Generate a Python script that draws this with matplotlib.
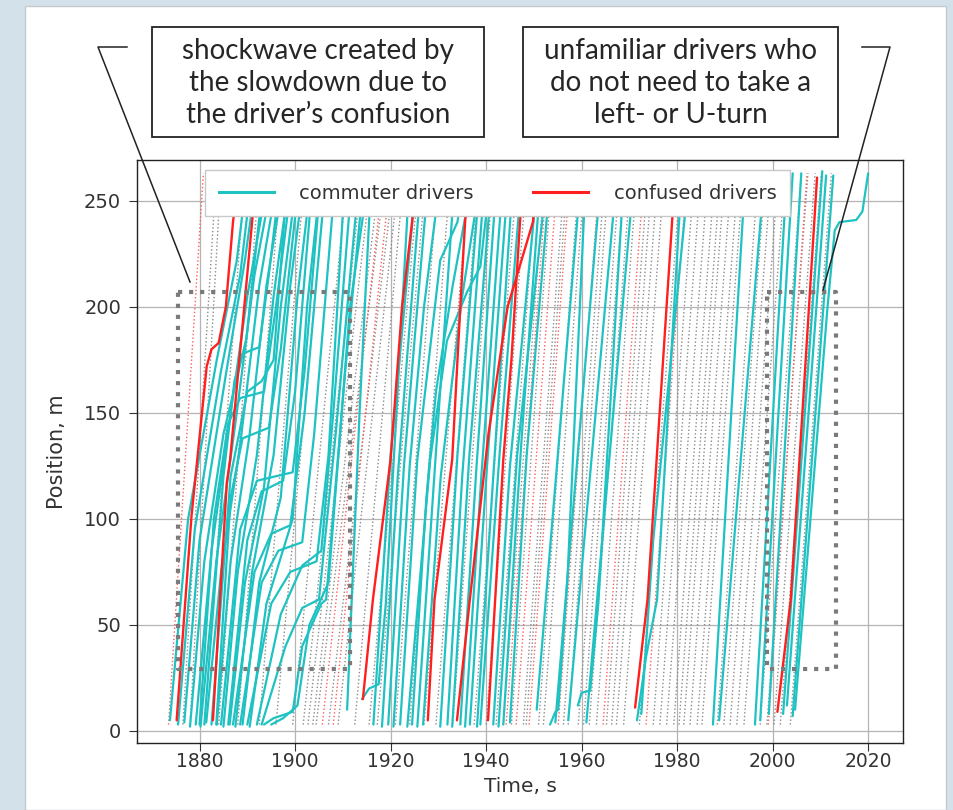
import matplotlib
matplotlib.use("Agg")
import matplotlib.pyplot as plt
from matplotlib.lines import Line2D
from matplotlib.patches import Rectangle

# ---------------- data (time s, position m) ----------------
x_ticks = [1880, 1900, 1920, 1940, 1960, 1980, 2000, 2020]
y_ticks = [0, 50, 100, 150, 200, 250]

# commuter drivers (cyan), left group inside the shockwave box
commuter_left = [
    [(1873.8, 5), (1877.6, 100), (1883.6, 175), (1887.8, 222), (1890.0, 263)],
    [(1875.5, 3), (1879.0, 95), (1884.5, 170), (1888.5, 215), (1891.0, 263)],
    [(1876.8, 4), (1880.0, 90), (1885.5, 168), (1889.5, 222), (1892.0, 263)],
    [(1878.0, 2), (1881.0, 80), (1885.0, 140), (1889.8, 185), (1893.5, 263)],
    [(1879.2, 3), (1882.5, 85), (1886.5, 150), (1890.0, 205), (1894.5, 263)],
    [(1880.2, 2), (1883.5, 80), (1887.5, 145), (1891.5, 215), (1895.5, 263)],
    [(1881.4, 4), (1884.5, 75), (1888.5, 135), (1892.5, 210), (1896.5, 263)],
    [(1883.6, 3), (1886.5, 80), (1890.5, 140), (1894.0, 210), (1897.8, 263)],
    [(1885.0, 2), (1888.0, 75), (1892.0, 130), (1895.5, 205), (1899.0, 263)],
    [(1886.3, 3), (1889.5, 70), (1893.5, 115), (1897.0, 200), (1900.5, 263)],
    [(1887.5, 2), (1891.0, 75), (1895.5, 130), (1899.0, 210), (1902.0, 263)],
    [(1889.0, 3), (1892.5, 70), (1897.0, 110), (1900.5, 205), (1903.5, 263)],
    [(1890.5, 2), (1894.0, 60), (1899.5, 100), (1902.5, 200), (1905.5, 263)],
]
# commuter drivers caught in the shockwave (plateaus)
commuter_wave = [
    [(1881.0, 3), (1885.0, 120), (1887.3, 165), (1889.0, 178), (1892.5, 181), (1894.5, 215), (1897.0, 263)],
    [(1880.0, 3), (1883.0, 100), (1886.0, 145), (1888.5, 157), (1893.5, 160), (1896.0, 200), (1899.5, 263)],
    [(1883.5, 3), (1886.5, 110), (1889.0, 138), (1894.5, 143), (1897.0, 180), (1901.0, 263)],
    [(1884.5, 3), (1888.5, 95), (1892.0, 118), (1899.5, 122), (1902.0, 170), (1905.5, 263)],
    [(1886.0, 3), (1890.0, 90), (1893.0, 113), (1897.5, 118), (1900.0, 160), (1903.8, 263)],
    [(1887.0, 3), (1891.5, 75), (1895.0, 93), (1899.0, 97), (1902.0, 150), (1906.5, 263)],
    [(1888.5, 3), (1893.0, 70), (1896.5, 85), (1901.5, 89), (1904.0, 140), (1908.5, 263)],
    [(1890.0, 3), (1895.0, 60), (1899.0, 75), (1904.5, 80), (1907.0, 130), (1910.5, 263)],
    [(1892.0, 3), (1897.0, 55), (1901.5, 78), (1905.5, 85), (1908.0, 150), (1912.0, 263)],
    [(1893.0, 3), (1898.0, 40), (1901.5, 58), (1905.0, 62), (1908.5, 140), (1913.5, 263)],
    [(1893.5, 3), (1895.5, 6), (1899.5, 9), (1901.5, 40), (1905.5, 60), (1906.5, 62), (1910.5, 170), (1914.5, 263)],
    [(1895.0, 3), (1897.5, 6), (1900.5, 12), (1903.0, 50), (1907.0, 70), (1911.5, 200), (1915.5, 263)],
    [(1882.5, 3), (1886.5, 120), (1890.0, 160), (1893.0, 165), (1895.5, 175), (1898.5, 263)],
]
# commuter drivers, middle and right part
commuter_mid = [
    [(1910.9, 10), (1913.5, 150), (1916.0, 263)],
    [(1914.0, 15), (1915.5, 20), (1917.5, 22), (1919.0, 60), (1924.0, 263)],
    [(1916.4, 3), (1920.0, 130), (1925.5, 263)],
    [(1918.2, 2), (1921.5, 120), (1926.5, 263)],
    [(1919.5, 3), (1922.8, 125), (1925.6, 200), (1928.0, 263)],
    [(1920.6, 2), (1924.0, 125), (1927.0, 200), (1930.5, 263)],
    [(1922.0, 3), (1925.6, 128), (1930.4, 222), (1934.0, 240), (1935.5, 263)],
    [(1923.5, 2), (1928.3, 128), (1931.8, 184), (1936.0, 207), (1938.8, 219), (1941.0, 263)],
    [(1924.5, 3), (1927.5, 110), (1929.5, 160), (1933.0, 210), (1937.3, 263)],
    [(1925.6, 2), (1929.0, 115), (1933.5, 263)],
    [(1926.8, 3), (1930.5, 120), (1935.0, 205), (1939.0, 263)],
    [(1930.4, 2), (1934.0, 130), (1938.8, 263)],
    [(1931.9, 3), (1935.0, 120), (1939.8, 263)],
    [(1932.9, 2), (1936.5, 130), (1941.3, 263)],
    [(1934.6, 3), (1938.0, 125), (1942.3, 263)],
    [(1935.6, 2), (1939.0, 120), (1943.6, 263)],
    [(1936.6, 3), (1940.2, 125), (1944.7, 263)],
    [(1938.1, 2), (1941.5, 120), (1945.7, 263)],
    [(1938.8, 3), (1942.8, 130), (1947.5, 263)],
    [(1941.5, 3), (1945.0, 125), (1950.9, 263)],
    [(1942.6, 2), (1946.5, 130), (1952.8, 263)],
    [(1943.6, 3), (1947.5, 140), (1951.5, 263)],
    [(1945.0, 4), (1948.5, 130), (1953.5, 263)],
    [(1950.6, 10), (1959.9, 263)],
    [(1953.4, 3), (1954.5, 9), (1955.1, 10), (1957.0, 70), (1960.9, 263)],
    [(1954.5, 4), (1964.1, 263)],
    [(1957.2, 5), (1967.4, 263)],
    [(1959.2, 12), (1960.0, 18), (1961.8, 19), (1963.5, 60), (1968.9, 263)],
    [(1961.0, 4), (1971.0, 263)],
    [(1971.6, 5), (1973.5, 35), (1975.8, 62), (1981.0, 263)],
    [(1972.5, 8), (1975.0, 90), (1982.5, 263)],
    [(1987.5, 3), (1994.3, 263)],
    [(1988.8, 5), (1998.3, 263)],
    [(1996.3, 3), (2003.0, 263)],
    [(1997.4, 5), (2004.2, 263)],
    [(1999.2, 8), (2006.0, 263)],
    [(2002.2, 8), (2010.4, 264)],
    [(2003.0, 12), (2011.2, 262)],
    [(2004.2, 7), (2012.7, 262)],
    [(2004.7, 10), (2011.5, 200), (2013.0, 236), (2014.0, 240), (2017.5, 241), (2018.8, 245), (2020.0, 263)],
]
# confused drivers (red)
confused = [
    [(1875.2, 5), (1878.3, 101), (1881.5, 172), (1882.5, 180), (1884.0, 183), (1885.5, 200), (1887.0, 240), (1888.2, 263)],
    [(1882.8, 5), (1885.7, 117), (1886.4, 128), (1891.0, 240), (1892.0, 263)],
    [(1914.2, 15), (1916.3, 62), (1920.0, 128), (1922.4, 200), (1924.5, 240), (1925.3, 263)],
    [(1927.8, 5), (1929.2, 62), (1932.9, 128), (1934.6, 200), (1935.6, 240), (1936.4, 263)],
    [(1933.9, 5), (1936.6, 62), (1940.5, 140), (1944.5, 200), (1949.8, 240), (1950.8, 263)],
    [(1940.4, 5), (1941.9, 62), (1943.6, 128), (1945.3, 175), (1946.0, 200), (1947.1, 240), (1948.0, 263)],
    [(1971.2, 11), (1973.8, 62), (1979.0, 242), (1979.8, 263)],
    [(2001.0, 9), (2003.8, 62), (2009.3, 261)],
]
# other vehicles (dotted): start time at 3 m, time at 263 m
other_gray_start = [1876.5, 1878.0, 1881.0, 1884.0, 1888.0, 1892.5, 1896.0, 1899.5,
                    1901.7, 1902.7, 1903.7, 1904.4, 1907.0, 1909.0, 1912.5, 1915.5,
                    1917.2, 1921.0, 1924.0, 1927.0, 1929.5, 1933.0, 1937.5, 1940.0,
                    1942.1, 1943.6, 1945.3, 1947.8, 1948.4, 1951.0, 1952.0, 1956.2,
                    1957.2, 1959.3, 1960.4, 1961.6, 1963.1, 1965.2, 1966.3, 1967.3,
                    1968.8, 1972.1, 1975.0, 1976.4, 1977.8, 1979.3, 1980.4, 1981.4,
                    1982.7, 1984.2, 1985.2, 1988.4, 1989.8, 1991.1, 1992.5, 1994.0,
                    1997.4, 1998.8, 2000.3, 2001.6, 2003.7]
other_gray_end = [1883.5, 1884.5, 1889.5, 1892.5, 1897.0, 1902.0, 1906.5, 1911.0,
                  1914.0, 1916.0, 1917.8, 1919.0, 1920.8, 1921.8, 1922.8, 1926.0,
                  1927.5, 1930.0, 1932.5, 1936.5, 1938.5, 1941.5, 1946.5, 1948.5,
                  1950.6, 1952.3, 1953.8, 1956.5, 1957.1, 1959.5, 1960.7, 1964.9,
                  1965.7, 1968.0, 1969.0, 1970.3, 1971.6, 1973.9, 1974.8, 1976.0,
                  1977.3, 1980.8, 1983.6, 1985.0, 1986.5, 1987.9, 1989.1, 1990.0,
                  1991.4, 1992.8, 1993.9, 1997.0, 1998.5, 1999.7, 2001.2, 2002.6,
                  2006.0, 2007.4, 2008.9, 2010.2, 2012.3]
other_red_start = [1873.5, 1905.7, 1908.0, 1944.2, 1946.3, 1949.0, 1955.1, 1964.5, 1973.5, 1999.1]
other_red_end = [1880.8, 1918.5, 1920.0, 1952.8, 1955.0, 1957.6, 1963.8, 1973.1, 1982.1, 2007.2]

# highlighted regions (time range, position range)
box_shock_t = [1875.5, 1911.6]
box_unfam_t = [1998.9, 2013.2]
box_p = [29, 207]

legend_labels = ["commuter drivers", "confused drivers"]
note_left = "shockwave created by\nthe slowdown due to\nthe driver\u2019s confusion"
note_right = "unfamiliar drivers who\ndo not need to take a\nleft- or U-turn"

# ---------------- styling ----------------
CYAN = "#1fc2c2"
RED = "#ff1f1f"
W, H = 954, 810

fig = plt.figure(figsize=(W / 100, H / 100), dpi=100)
fig.patch.set_facecolor("#d3e2ea")
fig.add_artist(Rectangle((25 / W, 0), 921 / W, 804 / H, transform=fig.transFigure,
                         facecolor="white", edgecolor="#c4c9cd", lw=1.0, zorder=0))

ax = fig.add_axes([137 / W, 67 / H, 766 / W, 583 / H])
ax.set_xlim(1866.9, 2027.3)
ax.set_ylim(-5.7, 269.3)
ax.set_xticks(x_ticks)
ax.set_yticks(y_ticks)
ax.grid(True, color="#b4b4b4", lw=0.9)
ax.set_axisbelow(True)
ax.tick_params(labelsize=14, length=5.5, color="#333333", labelcolor="#333333")
ax.tick_params(axis="y", pad=6)
ax.tick_params(axis="x", labelsize=13.5, pad=1)
for s in ax.spines.values():
    s.set_color("#222222")
    s.set_linewidth(1.0)
ax.set_xlabel("Time, s", fontsize=14.5, labelpad=4, color="#333333")
ax.set_ylabel("Position, m", fontsize=15, labelpad=12, color="#333333")

for t0, t1 in zip(other_gray_start, other_gray_end):
    ax.plot([t0, t1], [3, 263], ls=":", color="#8a8a8a", lw=1.0, zorder=2)
for t0, t1 in zip(other_red_start, other_red_end):
    ax.plot([t0, t1], [3, 263], ls=":", color="#ff5a5a", lw=1.0, zorder=2)

for path in commuter_left + commuter_wave + commuter_mid:
    ts, ps = zip(*path)
    ax.plot(ts, ps, color=CYAN, lw=1.6, zorder=3, solid_capstyle="round",
            solid_joinstyle="round")
for path in confused:
    ts, ps = zip(*path)
    ax.plot(ts, ps, color=RED, lw=1.7, zorder=4, solid_capstyle="round",
            solid_joinstyle="round")

for bt in (box_shock_t, box_unfam_t):
    ax.plot([bt[0], bt[1], bt[1], bt[0], bt[0]],
            [box_p[1], box_p[1], box_p[0], box_p[0], box_p[1]],
            ls=":", color="#7a7a7a", lw=3.0, zorder=6)

handles = [Line2D([], [], color=CYAN, lw=2.2), Line2D([], [], color=RED, lw=2.2)]
leg = ax.legend(handles, legend_labels, loc="upper left",
                bbox_to_anchor=(0.0888, 0.983, 0.7637, 0), mode="expand", ncol=2,
                borderaxespad=0, fontsize=14, handlelength=2.85, handletextpad=1.3,
                borderpad=0.7, framealpha=1.0, edgecolor="#c8c8c8", fancybox=False)
for txt in leg.get_texts():
    txt.set_color("#333333")
leg.set_zorder(10)

# annotation boxes
for x0, x1, txt in ((152, 484, note_left), (523, 838, note_right)):
    fig.add_artist(Rectangle((x0 / W, 1 - 137 / H), (x1 - x0) / W, 110 / H,
                             transform=fig.transFigure, facecolor="white",
                             edgecolor="#222222", lw=1.3, zorder=3))
    fig.text((x0 + x1) / 2 / W, 1 - 83 / H, txt, ha="center", va="center",
             fontsize=20, family=["Lato", "DejaVu Sans"], color="#262626",
             linespacing=1.3, zorder=4)

# callout lines
fig.add_artist(Line2D([127 / W, 98 / W, 190 / W], [1 - 47 / H, 1 - 47 / H, 1 - 282 / H],
                      transform=fig.transFigure, color="#222222", lw=1.1, zorder=5))
fig.add_artist(Line2D([862 / W, 890 / W, 823 / W], [1 - 47 / H, 1 - 47 / H, 1 - 290 / H],
                      transform=fig.transFigure, color="#222222", lw=1.1, zorder=5))

fig.savefig("out.png", dpi=100, facecolor=fig.get_facecolor())
